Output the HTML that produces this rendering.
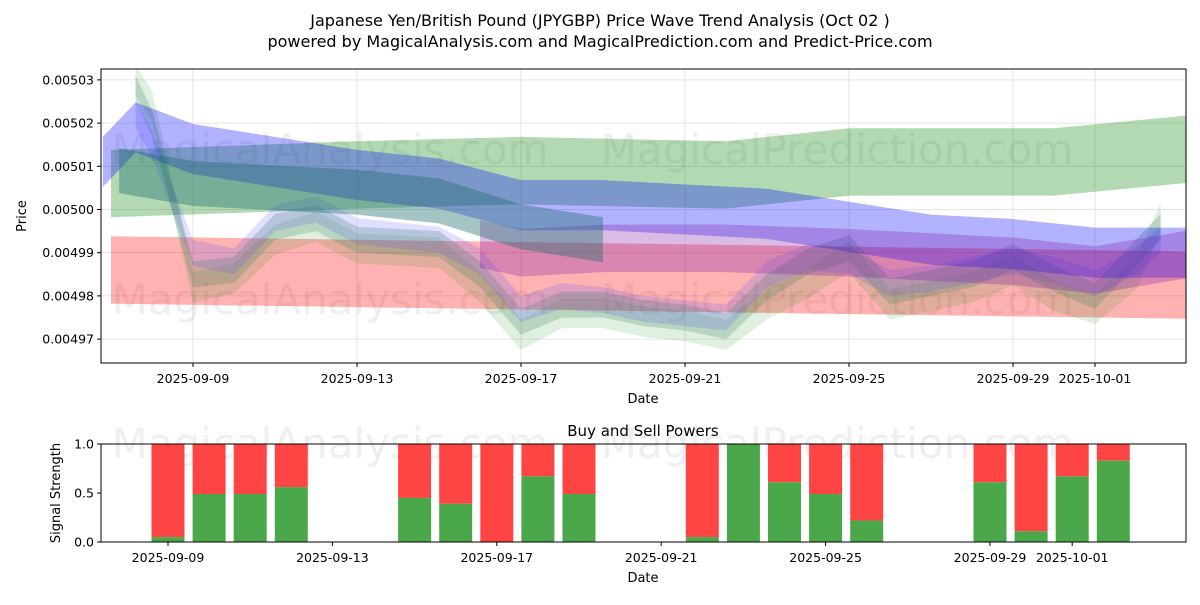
<!DOCTYPE html>
<html><head><meta charset="utf-8"><style>
body{margin:0;background:#fff;font-family:"Liberation Sans",sans-serif}
svg text{font-family:"DejaVu Sans","Liberation Sans",sans-serif}
</style></head><body>
<svg id="c" width="1200" height="600" viewBox="0 0 1200 600">
<text x="600" y="26" font-size="16" text-anchor="middle">Japanese Yen/British Pound (JPYGBP) Price Wave Trend Analysis (Oct 02 )</text>
<text x="600" y="47" font-size="16" text-anchor="middle">powered by MagicalAnalysis.com and MagicalPrediction.com and Predict-Price.com</text>
<g id="main"></g>
<g id="bars"></g>
</svg>
<script>
// ----- data -----
const priceTicks=[0.00497,0.00498,0.00499,0.00500,0.00501,0.00502,0.00503];
const dateTickDays=[9,13,17,21,25,29,31];
const dateTickLabels=["2025-09-09","2025-09-13","2025-09-17","2025-09-21","2025-09-25","2025-09-29","2025-10-01"];
const greenDays=[7,13,17,22,25,29,30,33.3];
const greenCenters=[0.005006,0.005008,0.005009,0.005008,0.005011,0.005011,0.005011,0.005014];
const redDays=[7,33.3];
const redCenters=[0.004986,0.0049825];
const blueDays=[6.8,7.6,9,13,15,17,19,21,23,25,27,29,31,33.5];
const blueCenters=[0.005011,0.005019,0.005014,0.005008,0.005006,0.005001,0.005001,0.005,0.004999,0.004996,0.004993,0.004992,0.00499,0.00499];
const purpleDays=[16,17,19,22,25,29,31,33.5];
const purpleCenters=[0.004992,0.00499,0.004991,0.004991,0.00499,0.004988,0.004986,0.00499];
const tealDays=[7.2,9,13,15,17,19];
const tealCenters=[0.005009,0.005006,0.005004,0.005002,0.004996,0.004993];
const waveDays=[7.6,8,9,10,11,12,13,15,16,17,18,19,20,21,22,23,24,25,26,27,28,29,30,31,32,32.6];
const waveA=[0.005028,0.00502,0.004985,0.004986,0.004996,0.004998,0.004993,0.004992,0.004985,0.004974,0.004978,0.004978,0.004976,0.004975,0.004973,0.004982,0.004988,0.004991,0.004981,0.004983,0.004985,0.004989,0.004984,0.00498,0.00499,0.004996];
const waveB=[0.005022,0.005015,0.00499,0.004988,0.004998,0.005,0.004995,0.004993,0.004988,0.004977,0.00498,0.004979,0.004977,0.004976,0.004975,0.004985,0.004989,0.004988,0.004983,0.004984,0.004986,0.004988,0.004986,0.004983,0.004988,0.004993];
const waveC=[0.00503,0.005024,0.004982,0.004984,0.004993,0.004996,0.004991,0.00499,0.004982,0.004971,0.004976,0.004976,0.004974,0.004973,0.004971,0.004978,0.004983,0.004989,0.004978,0.00498,0.004982,0.004986,0.00498,0.004977,0.004985,0.004998];
const barDays=[9,10,11,12,15,16,17,18,19,22,23,24,25,26,29,30,31,32];
const buyPower=[0.05,0.49,0.49,0.56,0.45,0.39,0.0,0.67,0.49,0.05,1.0,0.61,0.49,0.22,0.61,0.11,0.67,0.83];
const signalTicks=[0.0,0.5,1.0];
// ----- axes -----
const NS="http://www.w3.org/2000/svg";
const X=d=>193+(d-9)*41;
const Y=v=>209.5-(v-0.005)*4320000;
const XB=d=>168+(d-9)*41.1;
const YB=v=>542-v*98;
function el(tag,attrs,parent,text){const e=document.createElementNS(NS,tag);for(const k in attrs)e.setAttribute(k,attrs[k]);if(text!==undefined)e.textContent=text;parent.appendChild(e);return e;}
const main=document.getElementById('main'), bars=document.getElementById('bars');
// grid
priceTicks.forEach(v=>{const l=el('line',{x1:101,x2:1186,y1:Y(v),y2:Y(v),stroke:'#ddd','stroke-width':0.8},main);
 });
dateTickDays.forEach(d=>{const l=el('line',{x1:X(d),x2:X(d),y1:69,y2:363,stroke:'#ddd','stroke-width':0.8},main);
 });
// watermarks
[[330,150,"MagicalAnalysis.com"],[837,150,"MagicalPrediction.com"],[330,300,"MagicalAnalysis.com"],[837,300,"MagicalPrediction.com"]].forEach(w=>{
 const t=el('text',{x:w[0],y:w[1]+14,'font-size':42,'text-anchor':'middle',fill:'rgba(120,120,120,0.12)'},main,w[2]);
 
 
});
const clip=el('clipPath',{id:'cl'},main);el('rect',{x:101,y:69,width:1085,height:294},clip);
const g=el('g',{'clip-path':'url(#cl)'},main);
function bandG(days,centers,hw,color,name){
 const top=days.map((d,i)=>X(d)+','+Y(centers[i]+hw));
 const bot=days.map((d,i)=>X(d)+','+Y(centers[i]-hw)).reverse();
 const p=el('polygon',{points:top.concat(bot).join(' '),fill:color},g);
 
 
}
bandG(greenDays,greenCenters,0.0000078,'rgba(0,128,0,0.3)','green-trend-band');
bandG(redDays,redCenters,0.0000078,'rgba(255,0,0,0.3)','red-trend-band');
bandG(waveDays,waveC,0.0000035,'rgba(0,128,0,0.12)','wave-band-c');
bandG(waveDays,waveA,0.000003,'rgba(60,130,90,0.25)','wave-band-a');
bandG(waveDays,waveB,0.000003,'rgba(80,80,255,0.18)','wave-band-b');
bandG(blueDays,blueCenters,0.0000058,'rgba(0,0,255,0.3)','blue-trend-band');
bandG(purpleDays,purpleCenters,0.0000055,'rgba(130,30,170,0.3)','purple-trend-band');
bandG(tealDays,tealCenters,0.0000052,'rgba(30,110,110,0.4)','teal-trend-band');
// axes frame
let r=el('rect',{x:101,y:69,width:1085,height:294,fill:'none',stroke:'#000','stroke-width':1},main);

priceTicks.forEach(v=>{const y=Y(v);el('line',{x1:97,x2:101,y1:y,y2:y,stroke:'#000'},main);
 const t=el('text',{x:94,y:y+4.5,'font-size':12.5,'text-anchor':'end'},main,v.toFixed(5));
 });
dateTickDays.forEach((d,i)=>{const x=X(d);el('line',{x1:x,x2:x,y1:363,y2:367,stroke:'#000'},main);
 const t=el('text',{x:x,y:383,'font-size':12.5,'text-anchor':'middle'},main,dateTickLabels[i]);
 });
let t=el('text',{x:643,y:403,'font-size':13,'text-anchor':'middle'},main,'Date');
t=el('text',{x:26,y:216,'font-size':13,'text-anchor':'middle',transform:'rotate(-90 26 216)'},main,'Price');
// bars
t=el('text',{x:643,y:436,'font-size':15,'text-anchor':'middle'},bars,'Buy and Sell Powers');
[[330,444,"MagicalAnalysis.com"],[837,444,"MagicalPrediction.com"]].forEach(w=>{const q=el('text',{x:w[0],y:w[1]+14,'font-size':42,'text-anchor':'middle',fill:'rgba(120,120,120,0.12)'},bars,w[2]);
 });
barDays.forEach((d,i)=>{const x=XB(d)-16.5,b=buyPower[i];
 const s=el('rect',{x:x,y:YB(1),width:33,height:YB(b)-YB(1),fill:'#ff4444'},bars);
 
 const gb=el('rect',{x:x,y:YB(b),width:33,height:YB(0)-YB(b),fill:'#4aa84a'},bars);
 });
r=el('rect',{x:101,y:444,width:1085,height:98,fill:'none',stroke:'#000'},bars);

signalTicks.forEach(v=>{const y=YB(v);el('line',{x1:97,x2:101,y1:y,y2:y,stroke:'#000'},bars);
 const q=el('text',{x:94,y:y+4.5,'font-size':12.5,'text-anchor':'end'},bars,v.toFixed(1));
 });
dateTickDays.forEach((d,i)=>{const x=XB(d);el('line',{x1:x,x2:x,y1:542,y2:546,stroke:'#000'},bars);
 const q=el('text',{x:x,y:562,'font-size':12.5,'text-anchor':'middle'},bars,dateTickLabels[i]);
 });
t=el('text',{x:643,y:582,'font-size':13,'text-anchor':'middle'},bars,'Date');
t=el('text',{x:60,y:493,'font-size':13,'text-anchor':'middle',transform:'rotate(-90 60 493)'},bars,'Signal Strength');
</script>
</body></html>
